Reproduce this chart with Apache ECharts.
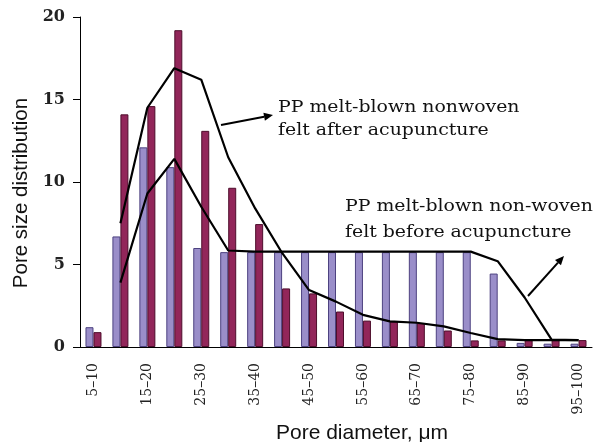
<!DOCTYPE html>
<html>
<head>
<meta charset="utf-8">
<script src="https://cdn.jsdelivr.net/npm/echarts@6/dist/echarts.min.js"></script>
<style>
  html, body { margin: 0; padding: 0; background: #fff; }
  #chart { width: 596px; height: 442px; }
</style>
</head>
<body>
<div id="chart"></div>
<script>
const categories = ['5–10', '10–15', '15–20', '20–25', '25–30', '30–35', '35–40', '40–45', '45–50', '50–55',
  '55–60', '60–65', '65–70', '70–75', '75–80', '80–85', '85–90', '90–95', '95–100']

// bars: before / after acupuncture
const barBefore = [1.2, 6.7, 12.1, 10.9, 6.0, 5.75, 5.75, 5.75, 5.75, 5.75, 5.75, 5.75, 5.75, 5.75, 5.75, 4.45, 0.25, 0.2, 0.2]
const barAfter = [0.9, 14.1, 14.6, 19.2, 13.1, 9.65, 7.45, 3.55, 3.25, 2.15, 1.6, 1.55, 1.45, 1.0, 0.4, 0.4, 0.42, 0.42, 0.42]

// trend lines
const lineAfter = [null, 7.5, 14.5, 16.9, 16.2, 11.5, 8.4, 5.7, 3.45, 2.75, 1.95, 1.55, 1.47, 1.25, 0.85, 0.48, 0.42, 0.42, 0.42]
const lineBefore = [null, 3.9, 9.3, 11.4, 8.5, 5.85, 5.78, 5.78, 5.78, 5.78, 5.78, 5.78, 5.78, 5.78, 5.78, 5.2, 3.0, 0.45, 0.42]

const yTicks = [0, 5, 10, 15, 20]

const serif = '"DejaVu Serif", serif'
const sans = '"Liberation Sans", Arial, sans-serif'

const chart = echarts.init(document.getElementById('chart'))

function arrow(x1, y1, x2, y2) {
  const ang = Math.atan2(y2 - y1, x2 - x1)
  const len = 9
  const w = 4
  const bx = x2 - len * Math.cos(ang)
  const by = y2 - len * Math.sin(ang)
  const px = -Math.sin(ang) * w
  const py = Math.cos(ang) * w
  return [
    { type: 'line', shape: { x1, y1, x2: bx, y2: by }, style: { stroke: '#000', lineWidth: 2 } },
    { type: 'polygon', shape: { points: [[x2, y2], [bx + px, by + py], [bx - px, by - py]] }, style: { fill: '#000' } },
  ]
}

// annotation text, top-left anchored, stretched a bit to match the wide serif of the original
function label(x, y, text) {
  return {
    type: 'text',
    x,
    y,
    scaleX: 1.18,
    style: { text, font: '16px ' + serif, fill: '#111', verticalAlign: 'top' },
  }
}

const option = {
  animation: false,
  grid: { left: 80, right: 4, top: 17, bottom: 95, outerBoundsMode: 'none' },
  xAxis: {
    type: 'category',
    data: categories,
    name: 'Pore diameter, μm',
    nameLocation: 'middle',
    nameGap: 76,
    nameTextStyle: { fontFamily: sans, fontSize: 21, color: '#111', padding: [0, 0, 0, 52] },
    axisLine: { lineStyle: { color: '#000', width: 1 } },
    axisTick: { interval: 0, length: 7, lineStyle: { color: '#000' } },
    axisLabel: {
      interval: 1,
      rotate: 90,
      margin: 16,
      fontFamily: serif,
      fontSize: 14,
      color: '#222',
    },
  },
  yAxis: {
    type: 'value',
    min: yTicks[0],
    max: yTicks[yTicks.length - 1],
    interval: 5,
    name: 'Pore size distribution',
    nameLocation: 'middle',
    nameGap: 48,
    nameTextStyle: { fontFamily: sans, fontSize: 20.5, color: '#111', padding: [0, 22, 0, 0] },
    axisLine: { show: true, lineStyle: { color: '#000', width: 1 } },
    axisTick: { show: true, length: 7, lineStyle: { color: '#000' } },
    splitLine: { show: false },
    axisLabel: {
      margin: 15,
      fontFamily: serif,
      fontSize: 16,
      fontWeight: 'bold',
      color: '#222',
    },
  },
  series: [
    {
      name: 'before',
      type: 'bar',
      data: barBefore,
      barWidth: 8,
      barGap: '0%',
      itemStyle: { color: '#9a8ec9', borderColor: '#4d4280', borderWidth: 1 },
    },
    {
      name: 'after',
      type: 'bar',
      data: barAfter,
      barWidth: 8,
      itemStyle: { color: '#92265a', borderColor: '#4e0e2c', borderWidth: 1 },
    },
    {
      name: 'after line',
      type: 'line',
      data: lineAfter,
      showSymbol: false,
      lineStyle: { color: '#000', width: 2.2 },
      z: 5,
    },
    {
      name: 'before line',
      type: 'line',
      data: lineBefore,
      showSymbol: false,
      lineStyle: { color: '#000', width: 2.2 },
      z: 5,
    },
  ],
  graphic: [
    label(278, 100, 'PP melt-blown nonwoven'),
    label(278, 123, 'felt after acupuncture'),
    label(345, 199, 'PP melt-blown non-woven'),
    label(345, 225, 'felt before acupuncture'),
    ...arrow(221, 125, 273, 115),
    ...arrow(528, 296, 564, 256),
  ],
}

chart.setOption(option)
</script>
</body>
</html>
